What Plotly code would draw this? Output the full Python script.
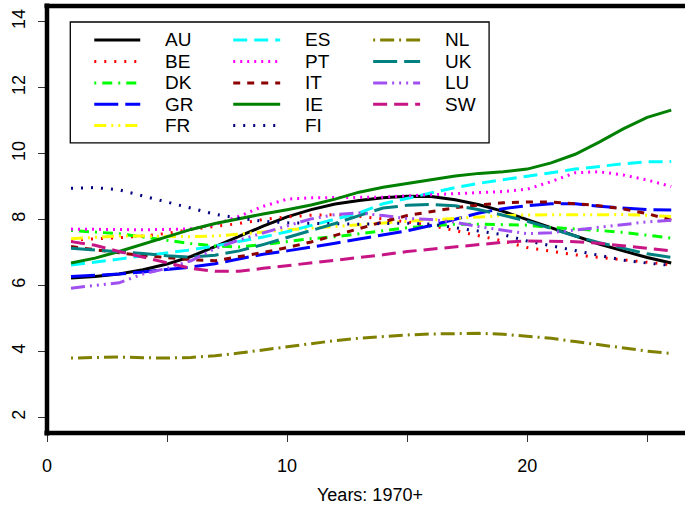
import plotly.graph_objects as go

years = list(range(1, 27))

AU = [6.23, 6.27, 6.35, 6.48, 6.65, 6.88, 7.18, 7.5, 7.8, 8.08, 8.3, 8.47, 8.58, 8.66, 8.71, 8.70, 8.6, 8.45, 8.25, 8.0, 7.75, 7.5, 7.26, 7.05, 6.85, 6.68]
BE = [7.38, 7.41, 7.45, 7.5, 7.58, 7.7, 7.78, 7.88, 8.0, 8.08, 8.13, 8.15, 8.1, 8.02, 7.93, 7.82, 7.66, 7.5, 7.35, 7.15, 7.03, 6.93, 6.85, 6.77, 6.7, 6.63]
DK = [7.67, 7.62, 7.57, 7.47, 7.37, 7.27, 7.2, 7.17, 7.24, 7.33, 7.42, 7.48, 7.56, 7.66, 7.75, 7.81, 7.86, 7.86, 7.85, 7.83, 7.76, 7.72, 7.67, 7.61, 7.52, 7.44]
GR = [6.27, 6.3, 6.35, 6.41, 6.48, 6.56, 6.66, 6.8, 6.95, 7.05, 7.16, 7.28, 7.41, 7.53, 7.66, 7.82, 8.02, 8.2, 8.33, 8.42, 8.48, 8.48, 8.4, 8.34, 8.3, 8.29]
FR = [7.42, 7.47, 7.5, 7.5, 7.49, 7.48, 7.5, 7.55, 7.62, 7.69, 7.75, 7.79, 7.84, 7.9, 7.95, 7.99, 8.04, 8.09, 8.12, 8.14, 8.14, 8.15, 8.16, 8.15, 8.13, 8.09]
ES = [6.62, 6.7, 6.8, 6.9, 6.98, 7.08, 7.2, 7.33, 7.47, 7.63, 7.82, 8.0, 8.2, 8.48, 8.65, 8.82, 8.97, 9.1, 9.2, 9.3, 9.42, 9.53, 9.62, 9.69, 9.75, 9.76]
PT = [7.71, 7.70, 7.69, 7.69, 7.70, 7.72, 7.85, 8.1, 8.4, 8.62, 8.66, 8.66, 8.67, 8.68, 8.72, 8.75, 8.78, 8.80, 8.85, 8.92, 9.15, 9.42, 9.45, 9.35, 9.2, 9.0]
IT = [7.18, 7.08, 6.99, 6.91, 6.84, 6.78, 6.75, 6.87, 7.0, 7.15, 7.32, 7.52, 7.73, 7.93, 8.12, 8.25, 8.36, 8.44, 8.51, 8.53, 8.53, 8.48, 8.42, 8.32, 8.18, 7.98]
IE = [6.68, 6.83, 7.03, 7.25, 7.48, 7.7, 7.88, 8.03, 8.17, 8.3, 8.44, 8.62, 8.83, 8.98, 9.10, 9.22, 9.32, 9.4, 9.45, 9.53, 9.72, 9.98, 10.35, 10.75, 11.1, 11.32]
FI = [8.95, 8.97, 8.9, 8.72, 8.53, 8.35, 8.16, 8.04, 7.95, 7.9, 7.88, 7.86, 7.86, 7.88, 7.89, 7.86, 7.75, 7.64, 7.54, 7.35, 7.2, 7.05, 6.9, 6.77, 6.68, 6.61]
NL = [3.80, 3.82, 3.83, 3.81, 3.80, 3.82, 3.87, 3.95, 4.05, 4.15, 4.25, 4.33, 4.4, 4.46, 4.5, 4.53, 4.55, 4.55, 4.52, 4.47, 4.4, 4.3, 4.2, 4.1, 4.01, 3.94]
UK = [7.13, 7.08, 7.03, 6.97, 6.9, 6.86, 6.92, 7.05, 7.24, 7.45, 7.66, 7.88, 8.12, 8.35, 8.43, 8.46, 8.42, 8.3, 8.13, 7.95, 7.73, 7.5, 7.3, 7.12, 6.96, 6.85]
LU = [5.92, 5.99, 6.08, 6.35, 6.52, 6.75, 7.12, 7.38, 7.6, 7.82, 8.02, 8.15, 8.2, 8.12, 8.03, 8.0, 7.92, 7.78, 7.67, 7.57, 7.6, 7.68, 7.77, 7.85, 7.93, 7.98]
SW = [7.33, 7.22, 7.03, 6.86, 6.68, 6.52, 6.43, 6.43, 6.52, 6.6, 6.68, 6.75, 6.83, 6.93, 7.03, 7.1, 7.19, 7.26, 7.31, 7.35, 7.35, 7.33, 7.28, 7.21, 7.12, 7.05]

names = ["AU", "BE", "DK", "GR", "FR", "ES", "PT", "IT", "IE", "FI", "NL", "UK", "LU", "SW"]
series = [AU, BE, DK, GR, FR, ES, PT, IT, IE, FI, NL, UK, LU, SW]
colors = ["#000000", "#FF0000", "#00FF00", "#0000FF", "#FFFF00", "#00FFFF", "#FF00FF",
          "#8B0000", "#008000", "#000080", "#808000", "#008080", "#A050F0", "#C71585"]
dashes = ["solid", "2px,8px", "2px,6px,10px,6px", "24px,7px", "12px,5px,2px,5px,2px,5px",
          "14px,7px", "2px,5px", "7px,7px", "solid", "2px,8px", "2px,5px,14px,5px",
          "24px,7px", "14px,5px,2px,5px,2px,5px,2px,5px", "14px,7px"]

x_tickvals = [0, 5, 10, 15, 20, 25]
x_ticktext = ["0", "", "10", "", "20", ""]
y_tickvals = [2, 4, 6, 8, 10, 12, 14]

W, H = 685, 508
L, R, T, B = 46.7, 685.0, 6.0, 433.3
PW, PH = R - L, B - T

def px(xp):
    return (xp - L) / PW

def py(yp):
    return (B - yp) / PH

FONT = "Liberation Sans, Arial, sans-serif"

fig = go.Figure()
for n, s, c, d in zip(names, series, colors, dashes):
    fig.add_trace(go.Scatter(x=years, y=s, mode="lines", name=n,
                             line=dict(color=c, width=3, dash=d), showlegend=False))

shapes = []
# plot frame: left, bottom, top
frame = dict(type="line", xref="paper", yref="paper", line=dict(color="black", width=4.5), layer="above")
shapes.append(dict(frame, x0=0, x1=0, y0=-0.006, y1=1.006))
shapes.append(dict(frame, x0=-0.004, x1=1.0, y0=0, y1=0))
shapes.append(dict(frame, x0=-0.004, x1=1.0, y0=1, y1=1))

# legend box
shapes.append(dict(type="rect", xref="paper", yref="paper", x0=px(70), x1=px(489), y0=py(143), y1=py(22),
                   line=dict(color="black", width=1.3), fillcolor="white", layer="above"))

annotations = []
col_line_x = [(94, 140), (233, 280), (373, 420)]
col_text_x = [163, 303, 443]
row_y = [40, 61.5, 83, 104.2, 125.5]
for i, (n, c, d) in enumerate(zip(names, colors, dashes)):
    col, row = i // 5, i % 5
    x0, x1 = col_line_x[col]
    yy = row_y[row]
    shapes.append(dict(type="line", xref="paper", yref="paper", x0=px(x0), x1=px(x1), y0=py(yy), y1=py(yy),
                       line=dict(color=c, width=3, dash=d), layer="above"))
    annotations.append(dict(text=n, xref="paper", yref="paper", x=px(col_text_x[col]), y=py(yy),
                            xanchor="left", yanchor="middle", showarrow=False,
                            font=dict(family=FONT, size=19, color="black")))

annotations.append(dict(text="Years: 1970+", xref="paper", yref="paper", x=px(370), y=py(495),
                        xanchor="center", yanchor="middle", showarrow=False,
                        font=dict(family=FONT, size=18, color="black")))

fig.update_layout(
    width=W, height=H,
    margin=dict(l=L, r=W - R, t=T, b=H - B, pad=0),
    paper_bgcolor="white", plot_bgcolor="white",
    shapes=shapes, annotations=annotations,
    font=dict(family=FONT, size=18, color="black"),
    xaxis=dict(range=[0, (R - L) / 24.02], tickmode="array", tickvals=x_tickvals, ticktext=x_ticktext,
               ticks="outside", ticklen=8, tickwidth=1, tickcolor="#333333", showgrid=False,
               zeroline=False, showline=False, tickfont=dict(size=18), ticklabelstandoff=8),
    yaxis=dict(range=[1.527, 14.476], tickmode="array", tickvals=y_tickvals,
               ticks="outside", ticklen=8, tickwidth=1, tickcolor="#333333", showgrid=False,
               zeroline=False, showline=False, tickangle=-90, tickfont=dict(size=18), ticklabelstandoff=6),
)

fig.write_html("out.html")
